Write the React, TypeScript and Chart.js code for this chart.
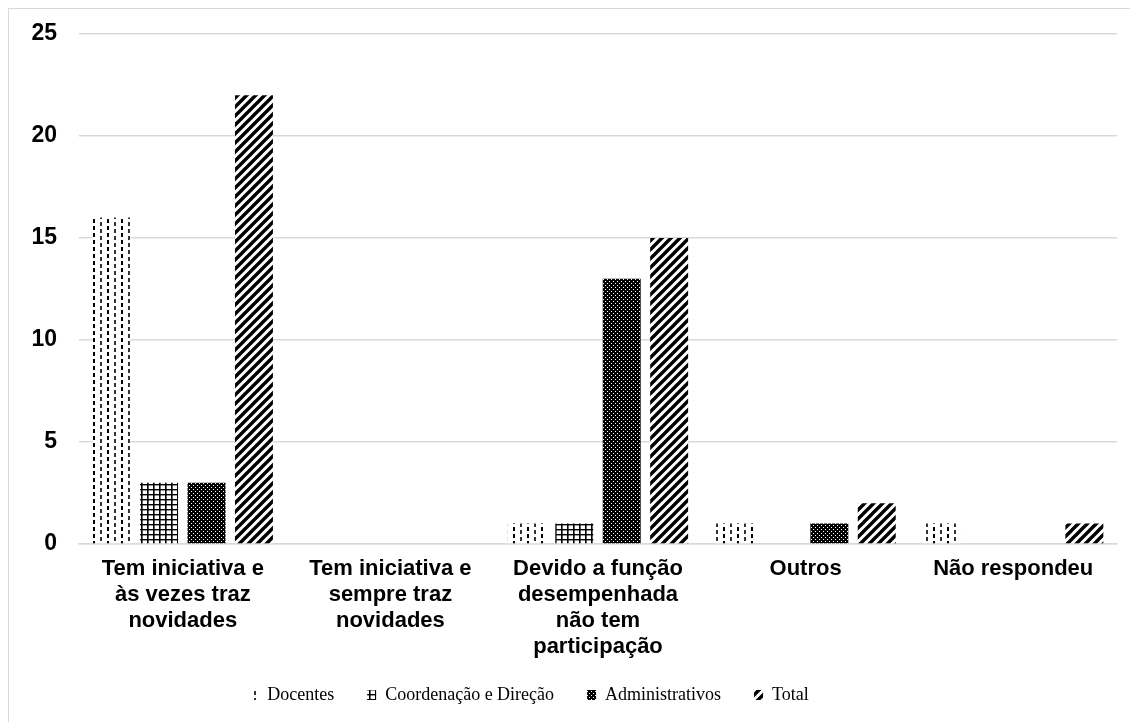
import React, { useEffect, useRef } from "react";
import { Chart, registerables } from "chart.js";

Chart.register(...registerables);

const categories: (string | string[])[] = [
  ["Tem iniciativa e", "às vezes traz", "novidades"],
  ["Tem iniciativa e", "sempre traz", "novidades"],
  ["Devido a função", "desempenhada", "não tem", "participação"],
  "Outros",
  "Não respondeu",
];
const seriesNames = ["Docentes", "Coordenação e Direção", "Administrativos", "Total"];
const docentes = [16, 0, 1, 1, 1];
const coordenacao = [3, 0, 1, 0, 0];
const administrativos = [3, 0, 13, 1, 0];
const total = [22, 0, 15, 2, 1];
const yTicks = [0, 5, 10, 15, 20, 25];

function makeTile(w: number, h: number, draw: (c: CanvasRenderingContext2D) => void) {
  const cv = document.createElement("canvas");
  cv.width = w;
  cv.height = h;
  const c = cv.getContext("2d")!;
  draw(c);
  return cv;
}

function patterns(ctx: CanvasRenderingContext2D) {
  const dashed = makeTile(14, 14, (c) => {
    c.fillStyle = "#fff";
    c.fillRect(0, 0, 14, 14);
    c.fillStyle = "#000";
    c.fillRect(0, 0, 2, 4);
    c.fillRect(0, 7, 2, 4);
    c.fillStyle = "#333";
    c.fillRect(7, 3, 2, 4);
    c.fillRect(7, 10, 2, 4);
  });
  const grid = makeTile(6, 5, (c) => {
    c.fillStyle = "#fff";
    c.fillRect(0, 0, 6, 5);
    c.fillStyle = "#000";
    c.fillRect(0, 0, 1.6, 5);
    c.fillRect(0, 0, 6, 1.4);
  });
  const dots = makeTile(4, 4, (c) => {
    c.fillStyle = "#000";
    c.fillRect(0, 0, 4, 4);
    c.fillStyle = "#fff";
    c.fillRect(0, 0, 1, 1);
    c.fillRect(2, 2, 1, 1);
  });
  const diag = makeTile(9, 9, (c) => {
    c.fillStyle = "#fff";
    c.fillRect(0, 0, 9, 9);
    c.strokeStyle = "#000";
    c.lineWidth = 3.4;
    c.beginPath();
    c.moveTo(-2, 11);
    c.lineTo(11, -2);
    c.moveTo(-7, 7);
    c.lineTo(7, -7);
    c.moveTo(2, 16);
    c.lineTo(16, 2);
    c.stroke();
  });
  return [dashed, grid, dots, diag].map((t) => ctx.createPattern(t, "repeat")!);
}

const LEGEND_SHIFT = 34;
const layoutTweakPlugin = {
  id: "layoutTweak",
  afterLayout(chart: any) {
    if (chart.legend) {
      chart.legend.left -= LEGEND_SHIFT;
      chart.legend.right -= LEGEND_SHIFT;
    }
    // let the multi-line category labels extend below the x scale box without clipping
    if (chart.scales.x) {
      chart.scales.x.bottom += 30;
    }
  },
};

export default function App() {
  const ref = useRef<HTMLCanvasElement>(null);
  useEffect(() => {
    const canvas = ref.current!;
    const ctx = canvas.getContext("2d")!;
    const pats = patterns(ctx);
    const data = [docentes, coordenacao, administrativos, total];
    const chart = new Chart(canvas, {
      type: "bar",
      data: {
        labels: categories,
        datasets: seriesNames.map((name, i) => ({
          label: name,
          data: data[i],
          backgroundColor: pats[i],
          borderWidth: 0,
          barPercentage: 0.8,
          categoryPercentage: 0.914,
        })),
      },
      plugins: [layoutTweakPlugin],
      options: {
        animation: false,
        responsive: false,
        maintainAspectRatio: false,
        layout: { padding: { top: 25, right: 21, bottom: 8, left: 0 } },
        plugins: {
          tooltip: { enabled: false },
          legend: {
            position: "bottom",
            labels: {
              boxWidth: 9,
              boxHeight: 10,
              padding: 33,
              color: "#000",
              font: { family: "'Liberation Serif', 'Times New Roman', serif", size: 18 },
            },
          },
        },
        scales: {
          x: {
            grid: { display: false, drawTicks: false },
            border: { color: "#d9d9d9", width: 1.5 },
            ticks: {
              color: "#000",
              padding: 12,
              maxRotation: 0,
              autoSkip: false,
              font: { family: "'Liberation Sans', Arial, sans-serif", size: 22, weight: "bold", lineHeight: 1.18 },
            },
            afterFit: (s: any) => {
              s.height = 109;
            },
          },
          y: {
            min: 0,
            max: 25,
            afterBuildTicks: (s: any) => {
              s.ticks = yTicks.map((v) => ({ value: v }));
            },
            grid: { color: "#d9d9d9", lineWidth: 1.5, drawTicks: false },
            border: { display: false },
            ticks: {
              color: "#000",
              padding: 22,
              font: { family: "'Liberation Sans', Arial, sans-serif", size: 23, weight: "bold" },
            },
            afterFit: (s: any) => {
              s.width = 70;
              s.paddingTop = 0;
              s.paddingBottom = 0;
            },
          },
        },
      },
    });
    return () => chart.destroy();
  }, []);
  return (
    <div
      style={{
        width: 1130,
        height: 714,
        borderTop: "1px solid #d9d9d9",
        borderLeft: "1px solid #d9d9d9",
        boxSizing: "border-box",
        background: "#fff",
        overflow: "hidden",
      }}
    >
      <canvas ref={ref} width={1129} height={713} style={{ display: "block" }} />
    </div>
  );
}
